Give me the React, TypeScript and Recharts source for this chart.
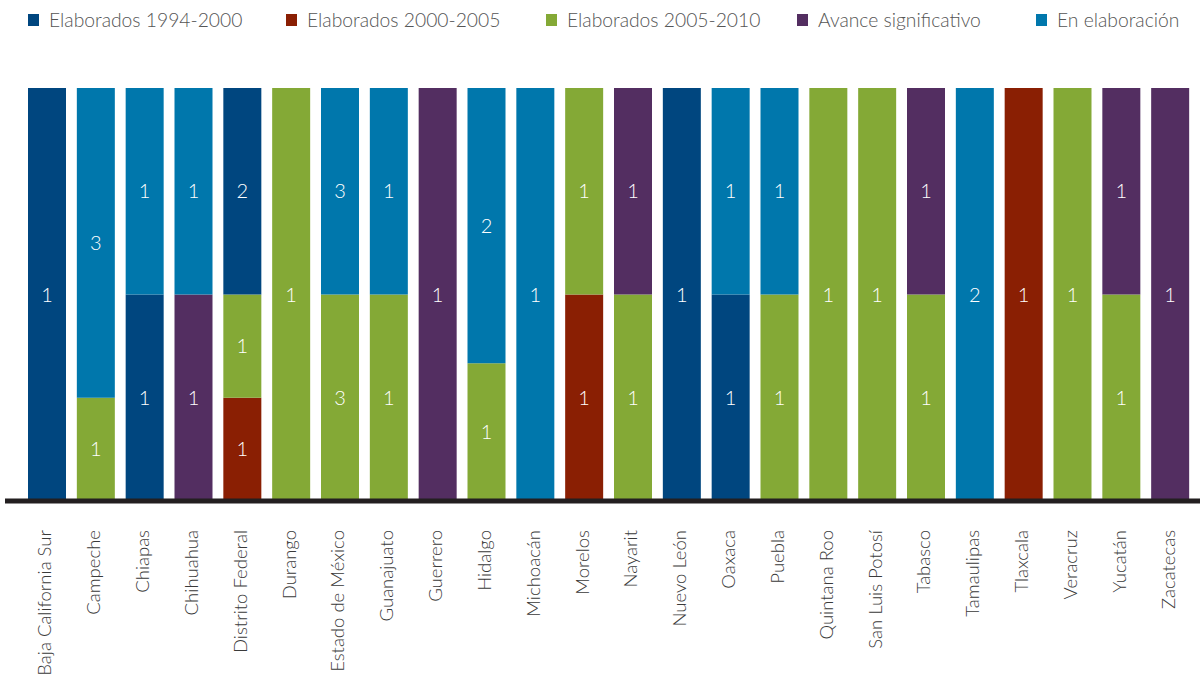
import { BarChart, Bar, XAxis, YAxis, LabelList } from "recharts"

const states = [
  "Baja California Sur",
  "Campeche",
  "Chiapas",
  "Chihuahua",
  "Distrito Federal",
  "Durango",
  "Estado de México",
  "Guanajuato",
  "Guerrero",
  "Hidalgo",
  "Michoacán",
  "Morelos",
  "Nayarit",
  "Nuevo León",
  "Oaxaca",
  "Puebla",
  "Quintana Roo",
  "San Luis Potosí",
  "Tabasco",
  "Tamaulipas",
  "Tlaxcala",
  "Veracruz",
  "Yucatán",
  "Zacatecas",
]

const elab1994 = [1, 0, 1, 0, 2, 0, 0, 0, 0, 0, 0, 0, 0, 1, 1, 0, 0, 0, 0, 0, 0, 0, 0, 0]
const elab2000 = [0, 0, 0, 0, 1, 0, 0, 0, 0, 0, 0, 1, 0, 0, 0, 0, 0, 0, 0, 0, 1, 0, 0, 0]
const elab2005 = [0, 1, 0, 0, 1, 1, 3, 1, 0, 1, 0, 1, 1, 0, 0, 1, 1, 1, 1, 0, 0, 1, 1, 0]
const avance = [0, 0, 0, 1, 0, 0, 0, 0, 1, 0, 0, 0, 1, 0, 0, 0, 0, 0, 1, 0, 0, 0, 1, 1]
const enElab = [0, 3, 1, 1, 0, 0, 3, 1, 0, 2, 1, 0, 0, 0, 1, 1, 0, 0, 0, 2, 0, 0, 0, 0]

// legend order
const series = [
  { key: "e1994", name: "Elaborados 1994-2000", color: "#00467F", values: elab1994 },
  { key: "e2000", name: "Elaborados 2000-2005", color: "#8A1F03", values: elab2000 },
  { key: "e2005", name: "Elaborados 2005-2010", color: "#84A936", values: elab2005 },
  { key: "avance", name: "Avance significativo", color: "#532E61", values: avance },
  { key: "enElab", name: "En elaboración", color: "#0077AC", values: enElab },
]

// stacking order, bottom to top
const stackOrder = ["e2000", "e2005", "e1994", "avance", "enElab"]

const legendX = [28, 286, 546, 797, 1036]

const FONT = "Lato, 'Open Sans', sans-serif"

const data = states.map((name, i) => {
  const row: Record<string, string | number> = { name }
  for (const s of series) row[s.key] = s.values[i]
  return row
})

function StateTick(props: any) {
  const { x, y, payload } = props
  const ty = y + 21
  const tx = x + 4
  return (
    <text
      x={tx}
      y={ty}
      transform={`rotate(-90, ${tx}, ${ty})`}
      textAnchor="end"
      fontFamily={FONT}
      fontWeight={300}
      fontSize={18.5}
      fill="#3a3a3a"
    >
      {payload.value}
    </text>
  )
}

export default function App() {
  return (
    <div style={{ position: "absolute", left: 0, top: 0, width: 1201, height: 681, background: "#fff" }}>
      {series.map((s, i) => (
        <div
          key={s.key}
          style={{
            position: "absolute",
            left: legendX[i],
            top: 8,
            display: "flex",
            alignItems: "center",
            fontFamily: FONT,
            fontWeight: 300,
            fontSize: 19.3,
            color: "#555",
            whiteSpace: "nowrap",
          }}
        >
          <span style={{ display: "inline-block", width: 11, height: 12, background: s.color, marginRight: 10 }} />
          {s.name}
        </div>
      ))}
      <BarChart
        width={1201}
        height={681}
        data={data}
        stackOffset="expand"
        margin={{ top: 88, right: 1, left: 5, bottom: 0 }}
        barSize={38}
      >
        <XAxis
          dataKey="name"
          height={180}
          interval={0}
          padding={{ left: 18, right: 5 }}
          axisLine={{ stroke: "#231F20", strokeWidth: 5 }}
          tickLine={false}
          tick={<StateTick />}
        />
        <YAxis hide domain={[0, 1]} />
        {stackOrder.map((key) => {
          const s = series.find((x) => x.key === key)!
          return (
            <Bar key={key} dataKey={key} name={s.name} stackId="a" fill={s.color} isAnimationActive={false}>
              <LabelList
                dataKey={key}
                position="center"
                formatter={(v: any) => (v ? v : "")}
                fill="#fff"
                fontFamily={FONT}
                fontWeight={300}
                fontSize={20}
              />
            </Bar>
          )
        })}
      </BarChart>
    </div>
  )
}
